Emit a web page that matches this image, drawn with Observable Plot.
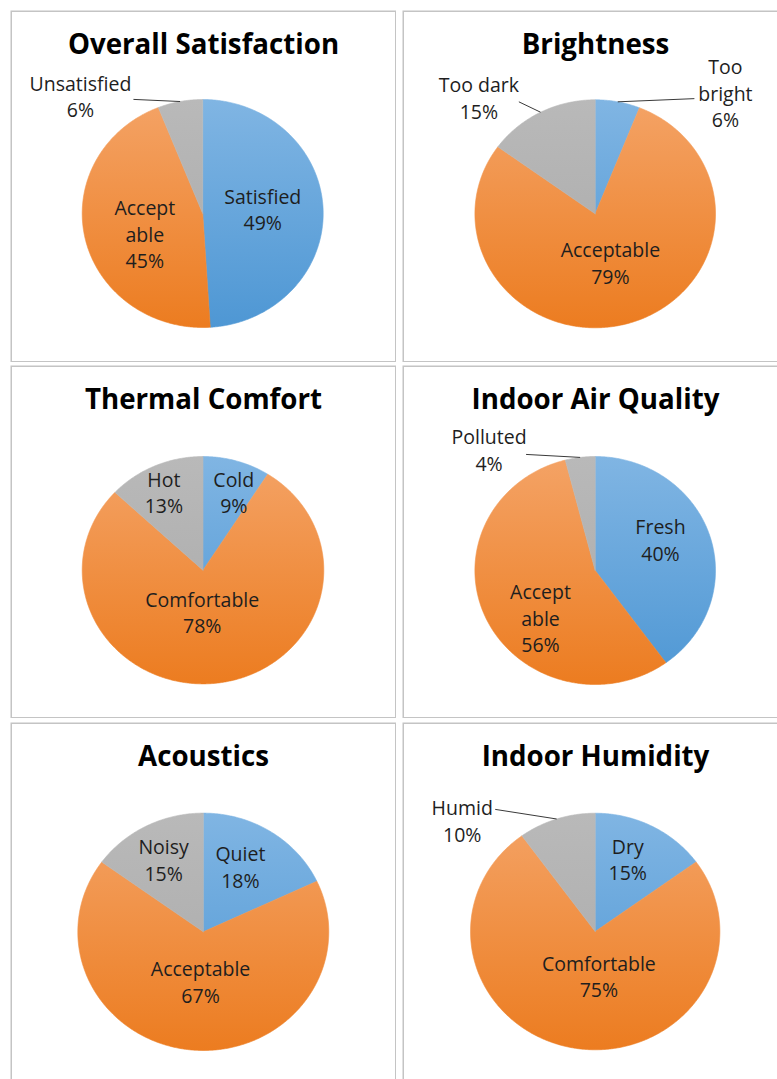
<!DOCTYPE html>
<html><head><meta charset="utf-8">
<script src="https://cdn.jsdelivr.net/npm/d3@7"></script>
<script src="https://cdn.jsdelivr.net/npm/@observablehq/plot@0.6"></script>
<style>
html,body{margin:0;padding:0;background:#fff;overflow:hidden;}
#page{position:relative;width:777px;height:1079px;overflow:hidden;background:#fff;}
.panel{position:absolute;overflow:visible;}
.panel svg{display:block;max-width:none !important;}
</style></head><body><div id="page"></div>
<script>
// ---- data ----
const titles = ["Overall Satisfaction", "Brightness", "Thermal Comfort", "Indoor Air Quality", "Acoustics", "Indoor Humidity"];
const categories = [
  ["Satisfied", "Accept\nable", "Unsatisfied"],
  ["Too\nbright", "Acceptable", "Too dark"],
  ["Cold", "Comfortable", "Hot"],
  ["Fresh", "Accept\nable", "Polluted"],
  ["Quiet", "Acceptable", "Noisy"],
  ["Dry", "Comfortable", "Humid"]
];
const values = [
  [49, 45, 6],
  [6, 79, 15],
  [9, 78, 13],
  [40, 56, 4],
  [18, 67, 15],
  [15, 75, 10]
];
const colorKeys = ["blue", "orange", "grey"];

// ---- layout / style ----
const gradients = {
  blue: ["#80b5e3", "#4e97d4"],
  orange: ["#f4a366", "#ec7c20"],
  grey: ["#b9b9b9", "#a9a9a9"]
};
const colLeft = [10, 402], rowTop = [10, 365, 722], rowHeight = [352, 353, 380], panelWidth = 386;
const pieGeom = [
  {cx: 192.2, cy: 203, rx: 120.5, ry: 114},
  {cx: 192.7, cy: 203.3, rx: 120.3, ry: 114},
  {cx: 192.5, cy: 204.7, rx: 120.8, ry: 113.7},
  {cx: 192.7, cy: 205, rx: 120.3, ry: 114},
  {cx: 192.8, cy: 209.3, rx: 125.5, ry: 118.7},
  {cx: 192.7, cy: 209, rx: 124.7, ry: 118.3}
];
// [angular shift from slice mid-angle (deg), radial factor]
const labelPlace = [
  [[-3, 0.50], [-7, 0.51], [-33.6, 1.45]],
  [[34.6, 1.52], [-0.5, 0.44], [-16.3, 1.41]],
  [[4, 0.738], [8.2, 0.363], [-1.7, 0.764]],
  [[-9, 0.609], [-16.7, 0.611], [-32.4, 1.384]],
  [[-4.3, 0.628], [-2.4, 0.415], [-0.3, 0.69]],
  [[-4.1, 0.67], [-13.5, 0.373], [-30.5, 1.424]]
];
// leader line start offset from label centre, in px
const leaderOffsets = [
  [null, null, [53, 4]],
  [[-31, 6.5], null, [40, 5]],
  [null, null, null],
  [null, null, [37, 5.5]],
  [null, null, null],
  [null, null, [33, -10.5]]
];
const fontFamily = "'Open Sans', sans-serif";

const page = document.getElementById("page");

titles.forEach((title, i) => {
  const col = i % 2, row = Math.floor(i / 2);
  const g = pieGeom[i];
  const vals = values[i], cats = categories[i];
  const total = d3.sum(vals);
  let acc = 0;
  const slices = vals.map((v, j) => {
    const a0 = acc / total * 2 * Math.PI; acc += v;
    const a1 = acc / total * 2 * Math.PI;
    return {j, a0, a1, mid: (a0 + a1) / 2};
  });
  const sliceMarks = slices.map(s => {
    const n = Math.max(2, Math.ceil((s.a1 - s.a0) / (Math.PI / 360)));
    const pts = [{x: 0, y: 0}];
    for (let k = 0; k <= n; k++) {
      const a = s.a0 + (s.a1 - s.a0) * k / n;
      pts.push({x: Math.sin(a), y: Math.cos(a)});
    }
    pts.push({x: 0, y: 0});
    const url = `url(#g${i}-${colorKeys[s.j]})`;
    return Plot.line(pts, {x: "x", y: "y", fill: url, stroke: url, strokeWidth: 0.6, curve: "linear"});
  });
  const labels = slices.map(s => {
    const [shift, r] = labelPlace[i][s.j];
    const a = s.mid + shift * Math.PI / 180;
    return {x: r * Math.sin(a), y: r * Math.cos(a), text: `${cats[s.j]}\n${vals[s.j]}%`, s};
  });
  const leaders = labels.filter((l, j) => leaderOffsets[i][j]).map(l => {
    const [dx, dy] = leaderOffsets[i][l.s.j];
    return {x1: l.x + dx / g.rx, y1: l.y - dy / g.ry, x2: Math.sin(l.s.mid), y2: Math.cos(l.s.mid)};
  });

  const svg = Plot.plot({
    width: panelWidth,
    height: rowHeight[row],
    margin: 0,
    x: {domain: [-1, 1], range: [g.cx - g.rx, g.cx + g.rx], axis: null},
    y: {domain: [-1, 1], range: [g.cy + g.ry, g.cy - g.ry], axis: null},
    style: {fontFamily, background: "white", maxWidth: "none"},
    marks: [
      Plot.frame({stroke: "#c4c4c4", strokeWidth: 1.5, inset: 0.75}),
      ...sliceMarks,
      Plot.link(leaders, {x1: "x1", y1: "y1", x2: "x2", y2: "y2", stroke: "#3a3a3a", strokeWidth: 1}),
      Plot.text(labels, {x: "x", y: "y", text: "text", fontSize: 19.5, lineHeight: 1.36, lineAnchor: "middle", fill: "#1e1e1e"}),
      Plot.text([title], {text: d => d, frameAnchor: "top", dy: 43, lineAnchor: "bottom", fontSize: 27.7, fontWeight: "bold", fill: "#000"})
    ]
  });
  const ys = svg.scale("y");
  const defs = d3.select(svg).insert("defs", ":first-child");
  for (const key of colorKeys) {
    const lg = defs.append("linearGradient").attr("id", `g${i}-${key}`)
      .attr("gradientUnits", "userSpaceOnUse")
      .attr("x1", 0).attr("x2", 0).attr("y1", ys.apply(1)).attr("y2", ys.apply(-1));
    lg.append("stop").attr("offset", 0).attr("stop-color", gradients[key][0]);
    lg.append("stop").attr("offset", 1).attr("stop-color", gradients[key][1]);
  }
  const div = document.createElement("div");
  div.className = "panel";
  div.style.left = colLeft[col] + "px";
  div.style.top = rowTop[row] + "px";
  div.style.width = panelWidth + "px";
  div.style.height = rowHeight[row] + "px";
  div.appendChild(svg);
  page.appendChild(div);
});
</script></body></html>
